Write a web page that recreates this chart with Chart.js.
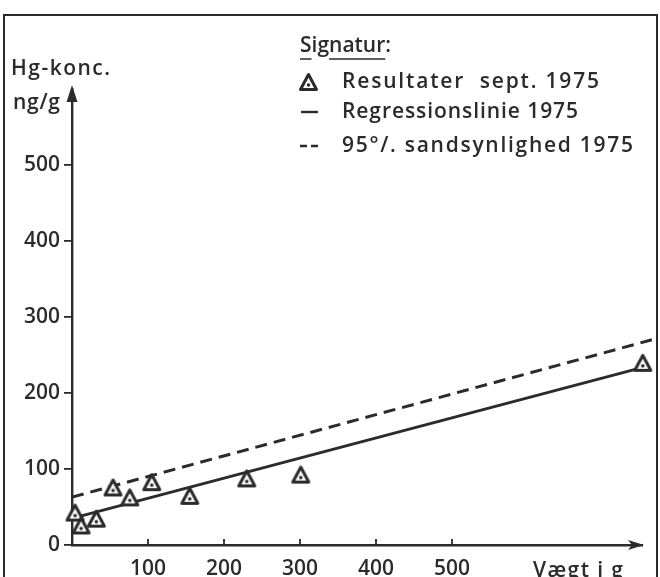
<!DOCTYPE html>
<html><head><meta charset="utf-8">
<script src="https://cdn.jsdelivr.net/npm/chart.js@4.4.1/dist/chart.umd.min.js"></script>
<style>html,body{margin:0;padding:0;background:#fff;}canvas{display:block;}</style>
</head><body>
<canvas id="c" width="660" height="577"></canvas>
<script>
// ---- data ----
const weights = [4, 12, 32, 54, 76, 105, 155, 230, 301, 751];      // Vægt i g
const hgConc  = [42, 25, 34, 75, 62, 82, 64, 87, 92, 239];          // ng/g
const regressionX = [0, 756];
const regressionY = [35, 235];
const confidenceX = [0, 763];
const confidenceY = [63, 270];
const xTickValues = [100, 200, 300, 400, 500];
const yTickValues = [0, 100, 200, 300, 400, 500];
const yAxisTitle = ['Hg-konc.', 'ng/g'];
const xAxisTitle = 'Vægt i g';
const legendTitle = 'Signatur:';
const legendLabels = ['Resultater  sept. 1975', 'Regressionslinie 1975', '95°/. sandsynlighed 1975'];

const INK = '#2b2b2b';
const FONT = '"Open Sans", sans-serif';
const FS = 21;
const FW = '600';

function triangleIcon(size) {
  const c = document.createElement('canvas');
  c.width = size; c.height = size;
  const g = c.getContext('2d');
  g.strokeStyle = INK; g.fillStyle = '#fff'; g.lineWidth = 3; g.lineJoin = 'round';
  g.beginPath();
  g.moveTo(size/2, 2.5); g.lineTo(size-2.5, size-3.5); g.lineTo(2.5, size-3.5); g.closePath();
  g.fill(); g.stroke();
  g.fillStyle = INK;
  g.beginPath(); g.arc(size/2, size*0.62, 1.8, 0, Math.PI*2); g.fill();
  return c;
}
const tri = triangleIcon(21);

const pts = weights.map((w, i) => ({x: w, y: hgConc[i]}));
const reg = regressionX.map((x, i) => ({x, y: regressionY[i]}));
const conf = confidenceX.map((x, i) => ({x, y: confidenceY[i]}));

function spacedText(ctx, text, x, y, targetWidth) {
  ctx.letterSpacing = '0px';
  const w = ctx.measureText(text).width;
  const n = [...text].length;
  const ls = targetWidth ? Math.max(0, (targetWidth - w) / (n - 1)) : 0;
  ctx.letterSpacing = ls + 'px';
  ctx.fillText(text, x, y);
  ctx.letterSpacing = '0px';
  return ls;
}

const decor = {
  id: 'decor',
  beforeDraw(chart) {
    const ctx = chart.ctx;
    ctx.save();
    ctx.fillStyle = '#fff';
    ctx.fillRect(0, 0, chart.width, chart.height);
    ctx.strokeStyle = INK; ctx.lineWidth = 2;
    ctx.beginPath();
    ctx.moveTo(4, 577); ctx.lineTo(4, 15); ctx.lineTo(657, 15); ctx.lineTo(657, 577);
    ctx.stroke();
    ctx.restore();
  },
  afterDraw(chart) {
    const ctx = chart.ctx;
    const xs = chart.scales.x, ys = chart.scales.y;
    const ca = chart.chartArea;
    ctx.save();
    ctx.strokeStyle = INK; ctx.fillStyle = INK; ctx.lineWidth = 2.4;
    const x0 = xs.getPixelForValue(0);
    ctx.beginPath(); ctx.moveTo(x0, ca.top - 4); ctx.lineTo(x0 - 5.5, ca.top + 13); ctx.lineTo(x0 + 5.5, ca.top + 13); ctx.closePath();
    ctx.fill();
    const y0 = ys.getPixelForValue(0);
    ctx.beginPath();
    ctx.moveTo(ca.right + 2, y0); ctx.lineTo(ca.right - 14, y0 - 5); ctx.lineTo(ca.right - 10, y0); ctx.lineTo(ca.right - 14, y0 + 5); ctx.closePath();
    ctx.fill();
    ctx.lineWidth = 1.8;
    xTickValues.forEach(v => {
      const px = xs.getPixelForValue(v);
      ctx.beginPath(); ctx.moveTo(px, y0); ctx.lineTo(px, y0 - 6); ctx.stroke();
    });
    ctx.font = FW + ' ' + FS + 'px ' + FONT;
    ctx.textBaseline = 'middle'; ctx.textAlign = 'left';
    spacedText(ctx, yAxisTitle[0], 11, 69, 99);
    spacedText(ctx, yAxisTitle[1], 13, 103, 47);
    ctx.textBaseline = 'top';
    spacedText(ctx, xAxisTitle, 533, 561, 90);
    ctx.textBaseline = 'middle';
    const ls = spacedText(ctx, legendTitle, 300, 46, 78);
    ctx.lineWidth = 1.6;
    const wOf = s => ctx.measureText(s).width + ls * [...s].length;
    const wS = wOf('S') - ls, wSig = wOf('Sig'), wSignatur = wOf('Signatur') - ls;
    ctx.beginPath();
    ctx.moveTo(300, 59); ctx.lineTo(300 + wS, 59);
    ctx.moveTo(300 + wSig, 59); ctx.lineTo(300 + wSignatur, 59);
    ctx.stroke();
    ctx.drawImage(tri, 298, 72);
    spacedText(ctx, legendLabels[0], 342, 82, 257);
    ctx.lineWidth = 2.4;
    ctx.beginPath(); ctx.moveTo(301, 112); ctx.lineTo(318, 112); ctx.stroke();
    spacedText(ctx, legendLabels[1], 342, 112, 236);
    ctx.beginPath(); ctx.moveTo(300, 146); ctx.lineTo(307, 146); ctx.moveTo(311, 146); ctx.lineTo(318, 146); ctx.stroke();
    spacedText(ctx, legendLabels[2], 342, 146, 291);
    ctx.restore();
  }
};

new Chart(document.getElementById('c'), {
  type: 'scatter',
  data: {
    datasets: [
      { label: legendLabels[2], data: conf, showLine: true, borderColor: INK, borderWidth: 3,
        borderDash: [12, 7], pointRadius: 0, clip: false, order: 3 },
      { label: legendLabels[1], data: reg, showLine: true, borderColor: INK, borderWidth: 3,
        pointRadius: 0, clip: false, order: 2 },
      { label: legendLabels[0], data: pts, pointStyle: tri, pointRadius: 10, clip: false, order: 1 }
    ]
  },
  options: {
    responsive: false, animation: false, devicePixelRatio: 1,
    layout: { padding: { left: 0, right: 18, top: 89, bottom: 0 } },
    plugins: { legend: { display: false }, tooltip: { enabled: false } },
    scales: {
      x: {
        type: 'linear', min: 0, max: 750,
        afterFit(s) { s.height = 32; },
        afterBuildTicks(s) { s.ticks = xTickValues.map(v => ({value: v})); },
        grid: { display: true, drawOnChartArea: false, drawTicks: false },
        border: { display: true, color: INK, width: 2.4 },
        ticks: { color: INK, font: { family: FONT, size: FS, weight: FW }, padding: 11, maxRotation: 0, autoSkip: false }
      },
      y: {
        type: 'linear', min: 0, max: 600,
        afterFit(s) { s.width = 72; },
        afterBuildTicks(s) { s.ticks = yTickValues.map(v => ({value: v})); },
        grid: { display: true, drawOnChartArea: false, drawTicks: true, tickLength: 8, color: INK, lineWidth: 1.8 },
        border: { display: true, color: INK, width: 2.4 },
        ticks: { color: INK, font: { family: FONT, size: FS, weight: FW }, padding: 4, autoSkip: false }
      }
    }
  },
  plugins: [decor]
});
</script>
</body></html>
